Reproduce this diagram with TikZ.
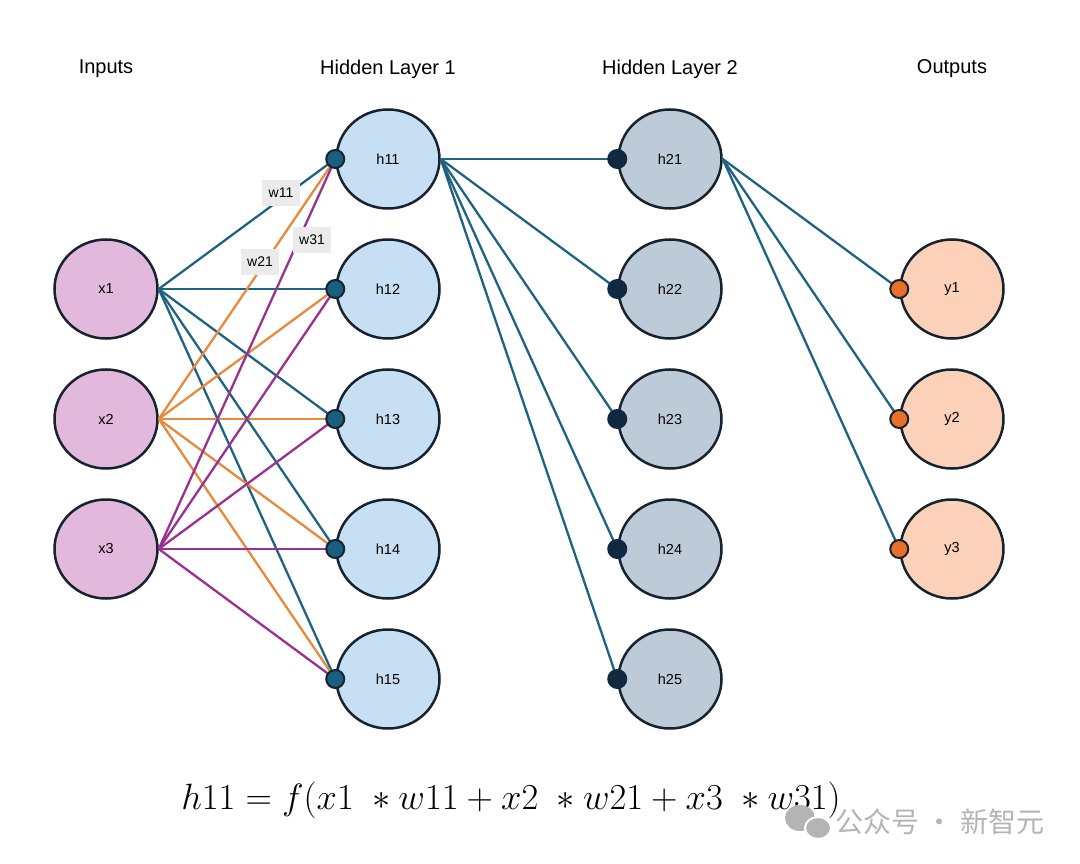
\documentclass[tikz,border=0pt]{standalone}
\usepackage{fontspec}
\setmainfont{Liberation Sans}
\newfontfamily\cjk{Noto Sans CJK SC}
\usetikzlibrary{positioning,shapes.geometric}

\definecolor{edgeblue}{HTML}{1F6382}
\definecolor{edgeorange}{HTML}{E8893C}
\definecolor{edgepurple}{HTML}{9B2F92}
\definecolor{infill}{HTML}{E2B9DC}
\definecolor{hidafill}{HTML}{C6DFF2}
\definecolor{hidbfill}{HTML}{BDCBD8}
\definecolor{outfill}{HTML}{FCD1BA}
\definecolor{rim}{HTML}{16222E}
\definecolor{dota}{HTML}{1B5F80}
\definecolor{dotb}{HTML}{102840}
\definecolor{dotc}{HTML}{E8702A}
\definecolor{wmark}{HTML}{B4B4B4}

\begin{document}
\begin{tikzpicture}[
    x=1pt, y=-1pt,
    node distance=28.5pt,
    neuron/.style={
        ellipse,
        draw=rim,
        line width=2.5pt,
        minimum width=103pt,
        minimum height=99pt,
        inner sep=0pt,
        font=\fontsize{14.5}{16}\selectfont
    },
    title/.style={
        font=\fontsize{20}{23}\selectfont
    },
    weight/.style={
        rectangle,
        fill=black!8,
        minimum width=38pt,
        minimum height=26pt,
        inner sep=0pt,
        font=\fontsize{14}{16}\selectfont
    },
    dot/.style={
        circle,
        draw=rim,
        line width=2pt,
        minimum size=18pt,
        inner sep=0pt
    },
    line/.style={
        draw,
        line width=2.3pt
    }
]
    \useasboundingbox (0,0) rectangle (1080,864);

    % Layer titles
    \node [title] (t_in) at (106,69) {Inputs};
    \node [title] (t_ha) at (388,69) {Hidden Layer 1};
    \node [title] (t_hb) at (670,69) {Hidden Layer 2};
    \node [title] (t_out) at (952,69) {Outputs};

    % Inputs
    \node [neuron, fill=infill] (x1) at (106,289) {x1};
    \node [neuron, fill=infill, below=of x1] (x2) {x2};
    \node [neuron, fill=infill, below=of x2] (x3) {x3};

    % Hidden layer 1
    \node [neuron, fill=hidafill] (h11) at (388,159) {h11};
    \node [neuron, fill=hidafill, below=of h11] (h12) {h12};
    \node [neuron, fill=hidafill, below=of h12] (h13) {h13};
    \node [neuron, fill=hidafill, below=of h13] (h14) {h14};
    \node [neuron, fill=hidafill, below=of h14] (h15) {h15};

    % Hidden layer 2
    \node [neuron, fill=hidbfill] (h21) at (670,159) {h21};
    \node [neuron, fill=hidbfill, below=of h21] (h22) {h22};
    \node [neuron, fill=hidbfill, below=of h22] (h23) {h23};
    \node [neuron, fill=hidbfill, below=of h23] (h24) {h24};
    \node [neuron, fill=hidbfill, below=of h24] (h25) {h25};

    % Outputs
    \node [neuron, fill=outfill] (y1) at (952,289) {y1};
    \node [neuron, fill=outfill, below=of y1] (y2) {y2};
    \node [neuron, fill=outfill, below=of y2] (y3) {y3};

    % Edges from x1
    \path [line, edgeblue] (x1.east) -- (h11.west);
    \path [line, edgeblue] (x1.east) -- (h12.west);
    \path [line, edgeblue] (x1.east) -- (h13.west);
    \path [line, edgeblue] (x1.east) -- (h14.west);
    \path [line, edgeblue] (x1.east) -- (h15.west);

    % Edges from x2
    \path [line, edgeorange] (x2.east) -- (h11.west);
    \path [line, edgeorange] (x2.east) -- (h12.west);
    \path [line, edgeorange] (x2.east) -- (h13.west);
    \path [line, edgeorange] (x2.east) -- (h14.west);
    \path [line, edgeorange] (x2.east) -- (h15.west);

    % Edges from x3
    \path [line, edgepurple] (x3.east) -- (h11.west);
    \path [line, edgepurple] (x3.east) -- (h12.west);
    \path [line, edgepurple] (x3.east) -- (h13.west);
    \path [line, edgepurple] (x3.east) -- (h14.west);
    \path [line, edgepurple] (x3.east) -- (h15.west);

    % Edges from h11
    \path [line, edgeblue] (h11.east) -- (h21.west);
    \path [line, edgeblue] (h11.east) -- (h22.west);
    \path [line, edgeblue] (h11.east) -- (h23.west);
    \path [line, edgeblue] (h11.east) -- (h24.west);
    \path [line, edgeblue] (h11.east) -- (h25.west);

    % Edges from h21
    \path [line, edgeblue] (h21.east) -- (y1.west);
    \path [line, edgeblue] (h21.east) -- (y2.west);
    \path [line, edgeblue] (h21.east) -- (y3.west);

    % Weight labels
    \node [weight] (w11) at (281,193) {w11};
    \node [weight] (w21) at (260,262) {w21};
    \node [weight] (w31) at (312,240) {w31};

    % Input dots
    \node [dot, fill=dota] (d11) at (h11.west) {};
    \node [dot, fill=dota] (d12) at (h12.west) {};
    \node [dot, fill=dota] (d13) at (h13.west) {};
    \node [dot, fill=dota] (d14) at (h14.west) {};
    \node [dot, fill=dota] (d15) at (h15.west) {};
    \node [dot, draw=dotb, fill=dotb] (d21) at (h21.west) {};
    \node [dot, draw=dotb, fill=dotb] (d22) at (h22.west) {};
    \node [dot, draw=dotb, fill=dotb] (d23) at (h23.west) {};
    \node [dot, draw=dotb, fill=dotb] (d24) at (h24.west) {};
    \node [dot, draw=dotb, fill=dotb] (d25) at (h25.west) {};
    \node [dot, fill=dotc] (dy1) at (y1.west) {};
    \node [dot, fill=dotc] (dy2) at (y2.west) {};
    \node [dot, fill=dotc] (dy3) at (y3.west) {};

    % Formula
    \node [font=\fontsize{24.88}{30}\selectfont, scale=1.47, transform shape] (formula) at (511,800)
        {$h11 = f(x1\;\ast w11 + x2\;\ast w21 + x3\;\ast w31)$};

    % Watermark
    \fill [wmark] (800,818) ellipse (15pt and 13pt);
    \draw [wmark, fill=wmark, line width=2pt, draw=white] (818,828) ellipse (13pt and 11pt);
    \node [text=wmark, font=\cjk\fontsize{28}{32}\selectfont, anchor=west] (wm) at (832,822) {公众号 · 新智元};
\end{tikzpicture}
\end{document}
